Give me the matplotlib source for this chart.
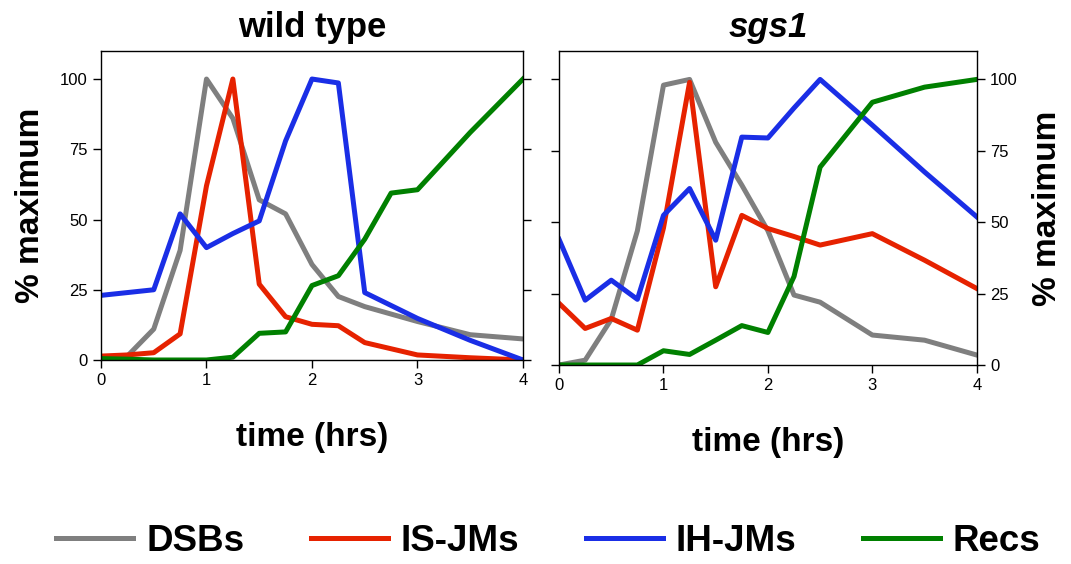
import numpy as np
import matplotlib
matplotlib.use("Agg")
import matplotlib.pyplot as plt

plt.rcParams['font.family'] = ['Liberation Sans', 'DejaVu Sans']

# wild type
wt_t = [0, 0.25, 0.5, 0.75, 1, 1.25, 1.5, 1.75, 2, 2.25, 2.5, 3, 3.5, 4]
wt_dsb = [1, 1.4, 11, 39, 100, 86, 57, 52, 34, 22.6, 19, 13.7, 9, 7.5]
wt_is = [1.4, 1.8, 2.6, 9.3, 62, 100, 27, 15.4, 12.7, 12.2, 6.2, 1.8, 0.8, 0]
wt_ih = [23, 24, 25, 52, 40, 45, 49.5, 78, 100, 98.6, 24, 14.8, 7, 0]
wt_rec = [0.5, 0.3, 0, 0, 0, 1, 9.5, 10, 26.5, 30, 43, 59.4, 60.6, 81, 100]
wt_rec_t = [0, 0.25, 0.5, 0.75, 1, 1.25, 1.5, 1.75, 2, 2.25, 2.5, 2.75, 3, 3.5, 4]

# sgs1
sg_t = [0, 0.25, 0.5, 0.75, 1, 1.25, 1.5, 1.75, 2, 2.25, 2.5, 3, 3.5, 4]
sg_dsb = [0, 1.7, 16, 47, 98, 100, 78, 63, 47, 24.5, 22, 10.5, 8.7, 3.5]
sg_is = [21.6, 12.8, 16.3, 12.2, 48, 99, 27.4, 52.4, 47.8, 45, 42, 46, 36.7, 26.8]
sg_ih = [44, 22.7, 29.7, 23, 52.4, 61.8, 43.7, 79.8, 79.5, 90, 100, 84, 67.6, 51.9]
sg_rec = [0, 0, 0, 0, 5, 3.7, 8.7, 13.8, 11.4, 31, 69.3, 92, 97.3, 100]

labels = ['DSBs', 'IS-JMs', 'IH-JMs', 'Recs']
colors = ['#7f7f7f', '#e62200', '#1a2ee6', '#008000']
yticks = [0, 25, 50, 75, 100]
xticks = [0, 1, 2, 3, 4]

fig = plt.figure(figsize=(10.71, 5.64), dpi=100)
ax1 = fig.add_axes([0.0943, 0.3617, 0.394, 0.548])
ax2 = fig.add_axes([0.522, 0.3528, 0.390, 0.557])

lw = 3.6
ax1.plot(wt_t, wt_dsb, color=colors[0], lw=lw, label=labels[0])
ax1.plot(wt_t, wt_is, color=colors[1], lw=lw, label=labels[1])
ax1.plot(wt_t, wt_ih, color=colors[2], lw=lw, label=labels[2])
ax1.plot(wt_rec_t, wt_rec, color=colors[3], lw=lw, label=labels[3])

ax2.plot(sg_t, sg_dsb, color=colors[0], lw=lw)
ax2.plot(sg_t, sg_is, color=colors[1], lw=lw)
ax2.plot(sg_t, sg_ih, color=colors[2], lw=lw)
ax2.plot(sg_t, sg_rec, color=colors[3], lw=lw)

for ax in (ax1, ax2):
    ax.set_xlim(0, 4)
    ax.set_ylim(0, 110)
    ax.set_xticks(xticks)
    ax.set_yticks(yticks)
    ax.tick_params(direction='out', length=6, width=1, labelsize=12,
                   left=True, right=True)
    ax.set_xlabel('time (hrs)', fontsize=24, fontweight='bold', labelpad=24)
    for s in ax.spines.values():
        s.set_linewidth(1)

ax1.tick_params(labelleft=True, labelright=False)
ax2.tick_params(labelleft=False, labelright=True)
ax1.set_ylabel('% maximum', fontsize=24, fontweight='bold', labelpad=10)
ax2.yaxis.set_label_position('right')
ax2.set_ylabel('% maximum', fontsize=24, fontweight='bold', labelpad=10,
               rotation=90)

ax1.set_title('wild type', fontsize=25, fontweight='bold', pad=10)
ax2.set_title('sgs1', fontsize=25, fontweight='bold', style='italic', pad=10)

h, l = ax1.get_legend_handles_labels()
fig.legend(h, l, loc='center', bbox_to_anchor=(0.512, 0.04), ncol=4,
           frameon=False, prop={'size': 26.5, 'weight': 'bold'},
           handlelength=2.1, handletextpad=0.35, columnspacing=1.8)

fig.savefig('out.png', dpi=100)
